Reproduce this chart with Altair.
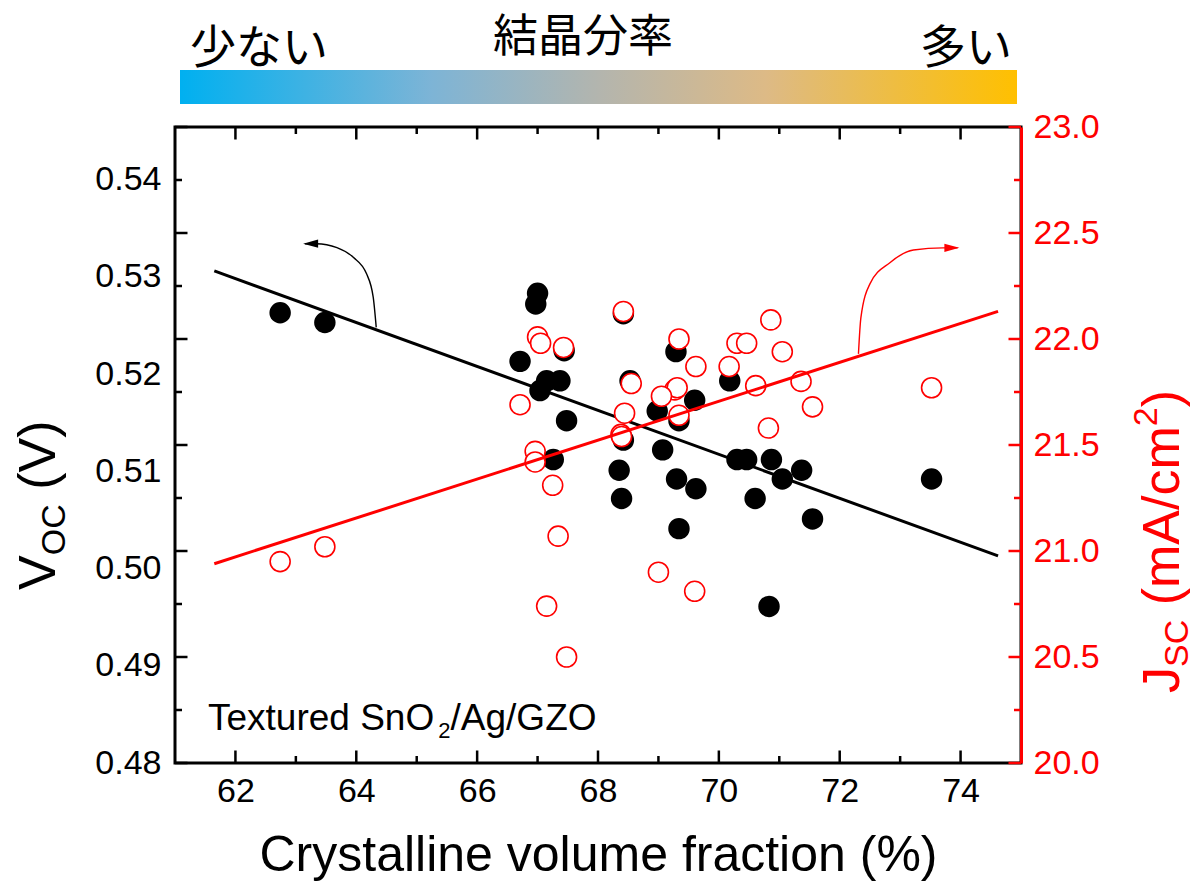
import altair as alt
import pandas as pd

# ---------------- data ----------------
voc_x = [62.74, 63.48, 67.00, 66.97, 66.71, 67.15, 67.37, 67.04, 67.44, 67.48, 67.26,
         68.42, 69.29, 68.53, 69.60, 68.98, 69.34, 70.18, 68.42, 69.07, 68.35, 68.39,
         69.30, 69.62, 69.34, 70.30, 70.46, 70.87, 71.05, 71.37, 70.60, 71.55, 70.83, 73.52]
voc_y = [0.5263, 0.5253, 0.5283, 0.5272, 0.5213, 0.5193, 0.5193, 0.5183, 0.5224, 0.5152, 0.5112,
         0.5262, 0.5223, 0.5193, 0.5173, 0.5162, 0.5152, 0.5193, 0.5132, 0.5122, 0.5101, 0.5072,
         0.5092, 0.5082, 0.5041, 0.5112, 0.5112, 0.5112, 0.5092, 0.5101, 0.5072, 0.5051, 0.4961, 0.5092]

jsc_x = [67.00, 67.05, 67.43, 66.71, 68.42, 66.96, 66.96, 67.25, 67.34, 67.15, 67.48,
         62.74, 63.48, 69.34, 68.55, 69.62, 70.17, 70.30, 70.46, 70.86, 71.05, 71.36,
         71.55, 70.61, 70.82, 73.52, 69.27, 69.31, 69.05, 69.34, 68.44, 68.38, 68.39, 69.00, 69.60]
jsc_y = [22.01, 21.98, 21.96, 21.69, 22.13, 21.47, 21.42, 21.31, 21.07, 20.74, 20.50,
         20.95, 21.02, 22.00, 21.79, 21.87, 21.87, 21.98, 21.98, 22.09, 21.94, 21.80,
         21.68, 21.78, 21.58, 21.77, 21.76, 21.77, 21.73, 21.64, 21.65, 21.55, 21.54, 20.90, 20.81]

fit_x = [61.65, 74.62]
voc_fit = [0.5306, 0.5013]
jsc_fit = [20.94, 22.13]

arrow_voc_x = [64.33, 64.28, 64.17, 63.95, 63.68, 63.34, 63.15]
arrow_voc_y = [0.5248, 0.5279, 0.5303, 0.5320, 0.5330, 0.5334, 0.5334]
arrow_voc_tip = (63.12, 0.5334)
arrow_jsc_x = [72.31, 72.35, 72.50, 72.83, 73.22, 73.71, 73.95]
arrow_jsc_y = [21.93, 22.10, 22.26, 22.36, 22.42, 22.43, 22.43]
arrow_jsc_tip = (73.98, 22.43)

X_DOMAIN = [61, 75]
VOC_DOMAIN = [0.48, 0.5454]
JSC_DOMAIN = [20, 23]

x_labels = [62, 64, 66, 68, 70, 72, 74]
x_minor = [63, 65, 67, 69, 71, 73]
voc_labels = [0.48, 0.49, 0.50, 0.51, 0.52, 0.53, 0.54]
jsc_labels = [20.0, 20.5, 21.0, 21.5, 22.0, 22.5, 23.0]
jsc_major = [20.0, 20.5, 21.0, 21.5, 22.0, 22.5, 23.0]
jsc_minor = [20.25, 20.75, 21.25, 21.75, 22.25, 22.75]

X_TITLE = "Crystalline volume fraction (%)"
SAMPLE = ["Textured SnO", "2", "/Ag/GZO"]
LEFT_TITLE = ["V", "OC", "(V)"]
RIGHT_TITLE = ["J", "SC", "(mA/cm", "2", ")"]
BAR_TEXT = ["少ない", "結晶分率", "多い"]

# ---------------- layout / style ----------------
W, H = 846, 636
FONT = "Liberation Sans"
JFONT = "Noto Sans CJK JP"
RED = "#FF0000"
MAJ, MIN = 12.5, 7  # tick lengths in px

ARIAL_W = {"V": .667, "O": .778, "C": .722, " ": .278, "(": .333, ")": .333, "J": .5,
           "S": .667, "m": .833, "A": .667, "/": .278, "c": .5, "2": .556, "T": .611,
           "e": .556, "x": .5, "t": .278, "u": .556, "r": .333, "d": .556, "n": .556,
           "g": .556, "G": .778, "Z": .611}


def tw(s, size):
    return sum(ARIAL_W.get(ch, .556) for ch in s) * size


def seg_size(length):
    # custom symbol paths are scaled by sqrt(size)/2 per unit
    return (2 * length) ** 2


xs = alt.Scale(domain=X_DOMAIN, nice=False, zero=False)
vs = alt.Scale(domain=VOC_DOMAIN, nice=False, zero=False)
js = alt.Scale(domain=JSC_DOMAIN, nice=False, zero=False)

x_axis = alt.Axis(values=x_labels, format="d", ticks=False, domain=False, grid=False,
                  labelFont=FONT, labelFontSize=34, labelColor="black", labelPadding=11,
                  title=X_TITLE, titleFont=FONT, titleFontSize=50, titleFontWeight="normal",
                  titleColor="black", titlePadding=22)
left_axis = alt.Axis(orient="left", values=voc_labels, format=".2f", ticks=False, domain=False,
                     grid=False, labelFont=FONT, labelFontSize=34, labelColor="black",
                     labelPadding=14, title=None)
right_axis = alt.Axis(orient="right", values=jsc_labels, format=".1f", ticks=False, domain=True,
                      domainColor=RED, domainWidth=3, grid=False, labelFont=FONT,
                      labelFontSize=34, labelColor=RED, labelPadding=12, title=None)

one = pd.DataFrame({"a": [0]})

VX = alt.X("x:Q", scale=xs, axis=x_axis)
VY = alt.Y("y:Q", scale=vs, axis=left_axis)
JY = alt.Y("y:Q", scale=js, axis=right_axis)

# ---------------- left (Voc) group ----------------
df_voc = pd.DataFrame({"x": voc_x, "y": voc_y})
df_vfit = pd.DataFrame({"x": fit_x, "y": voc_fit})
df_varrow = pd.DataFrame({"x": arrow_voc_x, "y": arrow_voc_y})
df_vtip = pd.DataFrame({"x": [arrow_voc_tip[0]], "y": [arrow_voc_tip[1]]})
df_xmaj = pd.DataFrame({"x": x_labels})
df_xmin = pd.DataFrame({"x": x_minor})

voc_pts = alt.Chart(df_voc).mark_circle(color="black", size=460, opacity=1).encode(x=VX, y=VY)
voc_line = alt.Chart(df_vfit).mark_line(color="black", strokeWidth=3).encode(x=VX, y=VY)
voc_arrow = alt.Chart(df_varrow).mark_line(color="black", strokeWidth=1.4,
                                           interpolate="monotone").encode(x=VX, y=VY)
voc_head = alt.Chart(df_vtip).mark_point(shape="M0,0 L2,-0.55 L2,0.55 Z", size=225, filled=True,
                                         color="black", opacity=1).encode(x=VX, y=VY)


def xtick(df, length, at_top):
    path = "M0,0 L0,1" if at_top else "M0,0 L0,-1"
    yd = VOC_DOMAIN[1] if at_top else VOC_DOMAIN[0]
    return alt.Chart(df).mark_point(shape=path, size=seg_size(length), filled=False,
                                    stroke="black", strokeWidth=2.5, opacity=1).encode(
        x=VX, y=alt.Y(datum=yd, scale=vs, axis=left_axis))


b_maj = xtick(df_xmaj, MAJ, False)
b_min = xtick(df_xmin, MIN, False)
t_maj = xtick(df_xmaj, MAJ, True)
t_min = xtick(df_xmin, MIN, True)

left_group = alt.layer(voc_pts, voc_line, voc_arrow, voc_head, b_maj, b_min, t_maj, t_min)

# ---------------- right (Jsc) group ----------------
df_jsc = pd.DataFrame({"x": jsc_x, "y": jsc_y})
df_jfit = pd.DataFrame({"x": fit_x, "y": jsc_fit})
df_jarrow = pd.DataFrame({"x": arrow_jsc_x, "y": arrow_jsc_y})
df_jtip = pd.DataFrame({"x": [arrow_jsc_tip[0]], "y": [arrow_jsc_tip[1]]})
df_jmaj = pd.DataFrame({"y": jsc_major})
df_jmin = pd.DataFrame({"y": jsc_minor})

jsc_pts = alt.Chart(df_jsc).mark_point(shape="circle", size=400, filled=False, fill="white",
                                       fillOpacity=1, stroke=RED, strokeWidth=1.6,
                                       opacity=1).encode(x=VX, y=JY)
jsc_line = alt.Chart(df_jfit).mark_line(color=RED, strokeWidth=3).encode(x=VX, y=JY)
jsc_arrow = alt.Chart(df_jarrow).mark_line(color=RED, strokeWidth=1.4,
                                           interpolate="monotone").encode(x=VX, y=JY)
jsc_head = alt.Chart(df_jtip).mark_point(shape="M0,0 L-2,-0.55 L-2,0.55 Z", size=225, filled=True,
                                         color=RED, opacity=1).encode(x=VX, y=JY)


def ytick(df, length, on_right, color):
    path = "M0,0 L-1,0" if on_right else "M0,0 L1,0"
    xd = X_DOMAIN[1] if on_right else X_DOMAIN[0]
    return alt.Chart(df).mark_point(shape=path, size=seg_size(length), filled=False,
                                    stroke=color, strokeWidth=2.5, opacity=1).encode(
        y=JY, x=alt.X(datum=xd, scale=xs, axis=x_axis))


l_maj = ytick(df_jmaj, MAJ, False, "black")
l_min = ytick(df_jmin, MIN, False, "black")
r_maj = ytick(df_jmaj, MAJ, True, RED)
r_min = ytick(df_jmin, MIN, True, RED)

right_group = alt.layer(jsc_pts, jsc_line, jsc_arrow, jsc_head, l_maj, l_min, r_maj, r_min)

# ---------------- gradient bar and Japanese labels ----------------
grad = alt.LinearGradient(gradient="linear", x1=0, x2=1, y1=0, y2=0, stops=[
    alt.GradientStop(color="#00B0F0", offset=0),
    alt.GradientStop(color="#7DB4D6", offset=0.3),
    alt.GradientStop(color="#B3B5AE", offset=0.5),
    alt.GradientStop(color="#DDBA86", offset=0.7),
    alt.GradientStop(color="#FFC000", offset=1)])
bar = alt.Chart(one).mark_rect(color=grad).encode(
    x=alt.value(5), x2=alt.value(842), y=alt.value(-57), y2=alt.value(-23))


def txt(text, x, y, size, color="black", font=FONT, align="left", baseline="alphabetic",
        angle=0):
    return alt.Chart(one).mark_text(text=text, font=font, fontSize=size, color=color,
                                    align=align, baseline=baseline, angle=angle).encode(
        x=alt.value(x), y=alt.value(y))


jp1 = txt(BAR_TEXT[0], 15, -64, 46, font=JFONT)
jp2 = txt(BAR_TEXT[1], 408, -75, 45, font=JFONT, align="center")
jp3 = txt(BAR_TEXT[2], 837, -64, 46, font=JFONT, align="right")

# sample label with subscript
S_BIG, S_SUB = 37, 22
sx, sy = 33, 603
s1 = txt(SAMPLE[0], sx, sy, S_BIG)
s2 = txt(SAMPLE[1], sx + tw(SAMPLE[0], S_BIG), sy + 8, S_SUB)
s3 = txt(SAMPLE[2], sx + tw(SAMPLE[0], S_BIG) + tw(SAMPLE[1], S_SUB), sy, S_BIG)

# left axis title (rotated), V_OC (V)
T_BIG, T_SUB = 52, 34
SP = tw(" ", T_BIG)
lx, ly = -120, 463
l1 = txt(LEFT_TITLE[0], lx, ly, T_BIG, angle=270)
ly2 = ly - tw(LEFT_TITLE[0], T_BIG)
l2 = txt(LEFT_TITLE[1], lx + 10, ly2, T_SUB, angle=270)
ly3 = ly2 - tw(LEFT_TITLE[1], T_SUB) - SP
l3 = txt(LEFT_TITLE[2], lx, ly3, T_BIG, angle=270)

# right axis title (rotated), J_SC (mA/cm^2)
rx, ry = 1004, 566
r1 = txt(RIGHT_TITLE[0], rx, ry, T_BIG, color=RED, angle=270)
ry2 = ry - tw(RIGHT_TITLE[0], T_BIG)
r2 = txt(RIGHT_TITLE[1], rx + 9, ry2, T_SUB, color=RED, angle=270)
ry3 = ry2 - tw(RIGHT_TITLE[1], T_SUB) - SP
r3 = txt(RIGHT_TITLE[2], rx, ry3, T_BIG, color=RED, angle=270)
ry4 = ry3 - tw(RIGHT_TITLE[2], T_BIG)
r4 = txt(RIGHT_TITLE[3], rx - 22, ry4, T_SUB, color=RED, angle=270)
ry5 = ry4 - tw(RIGHT_TITLE[3], T_SUB)
r5 = txt(RIGHT_TITLE[4], rx, ry5, T_BIG, color=RED, angle=270)

deco = alt.layer(bar, jp1, jp2, jp3, s1, s2, s3, l1, l2, l3, r1, r2, r3, r4, r5)

chart = alt.layer(left_group, right_group, deco).resolve_scale(y="independent").properties(
    width=W, height=H,
    autosize=alt.AutoSizeParams(type="none"),
    padding={"left": 175, "top": 127, "right": 175, "bottom": 125},
    background="white",
).configure_view(stroke="black", strokeWidth=3)

chart.save("out.html", embed_options={"renderer": "svg", "actions": False})
